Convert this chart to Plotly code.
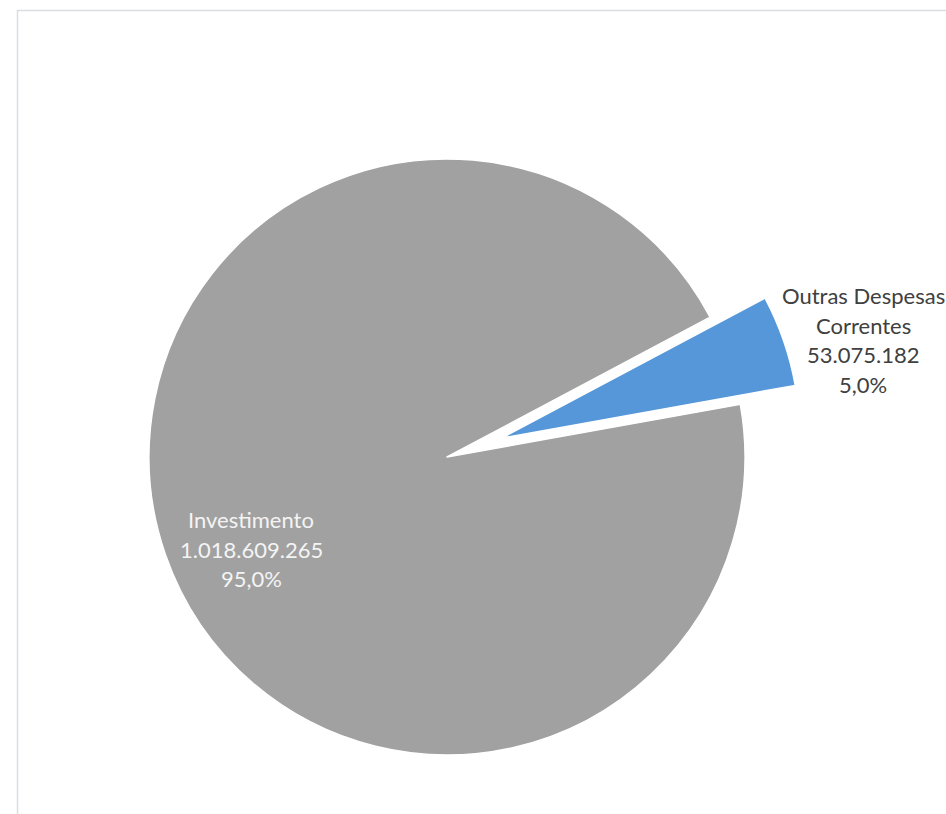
import textwrap
import plotly.graph_objects as go

# data
labels = ["Outras Despesas Correntes", "Investimento"]
values = [53075182, 1018609265]
colors = ["#5597d8", "#a1a1a1"]
pulls = [0.195, 0]

W, H = 946, 814

# pie geometry in pixels (center, radius) -> domain
cx, cy, r = 447, 457, 298
half = r * (1 + max(pulls))
dom_x = [(cx - half - 10) / W, (cx + half + 10) / W]
dom_y = [(H - (cy + half)) / H, (H - (cy - half)) / H]

fig = go.Figure(go.Pie(
    labels=labels, values=values, sort=False,
    direction="clockwise", rotation=62, pull=pulls,
    marker=dict(colors=colors, line=dict(color="white", width=1.5)),
    textinfo="none", hoverinfo="label+value+percent",
    domain=dict(x=dom_x, y=dom_y),
))

# data labels (Excel style: name / value / percent)
total = sum(values)
label_pos = {  # block center in pixels, text color
    "Outras Despesas Correntes": (863, 340, "#404040"),
    "Investimento": (251, 549, "#f4f4f4"),
}
pitch = 29.5
for lab, v in zip(labels, values):
    lines = textwrap.wrap(lab, 15)
    lines.append(f"{v:,}".replace(",", "."))
    lines.append(f"{v / total * 100:.1f}".replace(".", ",") + "%")
    x, y, col = label_pos[lab]
    y0 = y - pitch * (len(lines) - 1) / 2
    for i, t in enumerate(lines):
        fig.add_annotation(x=x / W, y=1 - (y0 + i * pitch) / H,
                           xref="paper", yref="paper", text=t, showarrow=False,
                           xanchor="center", yanchor="middle",
                           font=dict(family="Lato", size=22, color=col))

# chart area border (top and left edges visible)
fig.add_shape(type="rect", xref="paper", yref="paper",
              x0=17.5 / W, x1=1.05, y0=-0.05, y1=1 - 10.5 / H,
              line=dict(color="#d9dde4", width=1.5))

fig.update_layout(width=W, height=H, margin=dict(l=0, r=0, t=0, b=0),
                  paper_bgcolor="white", plot_bgcolor="white", showlegend=False)

# drop the default 8px body margin so the figure fills the window
fig.write_html("out.html", config={"displayModeBar": False},
               post_script="document.body.style.margin='0';document.body.style.overflow='hidden';")
